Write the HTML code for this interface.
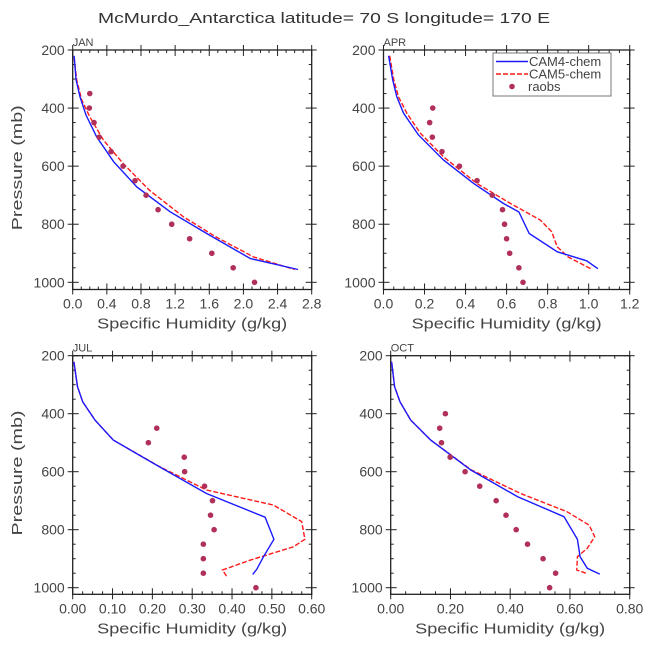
<!DOCTYPE html>
<html><head><meta charset="utf-8"><style>
body{margin:0;background:#fff;}
svg{display:block;font-family:"Liberation Sans","DejaVu Sans",sans-serif;}
</style></head><body>
<svg id="chart" width="648" height="648" viewBox="0 0 648 648">
<text x="324" y="23" text-anchor="middle" font-size="15" fill="#333" textLength="452" lengthAdjust="spacingAndGlyphs">McMurdo_Antarctica  latitude= 70 S longitude= 170 E</text>
</svg>
<script>
// ---- data ----
const janCam4P=[220,303,361,424,499,585,671,757,832,918,956];
const janCam4Q=[0.016,0.04,0.086,0.156,0.28,0.48,0.75,1.14,1.57,2.08,2.64];
const janCam5P=[225,303,372,430,510,591,683,775,844,913,956];
const janCam5Q=[0.016,0.047,0.105,0.2,0.36,0.59,0.9,1.3,1.68,2.12,2.6];
const janObsP=[350,400,450,500,550,600,650,700,750,800,850,900,950,1000];
const janObsQ=[0.2,0.195,0.25,0.31,0.45,0.59,0.73,0.86,1.0,1.16,1.37,1.63,1.88,2.13];

const aprCam4P=[220,303,361,418,493,579,660,729,758,832,895,926,953];
const aprCam4Q=[0.025,0.045,0.065,0.098,0.171,0.293,0.44,0.586,0.66,0.71,0.847,0.99,1.045];
const aprCam5P=[220,303,361,418,487,568,660,729,786,826,878,913,953];
const aprCam5Q=[0.03,0.05,0.073,0.114,0.18,0.293,0.456,0.62,0.765,0.82,0.847,0.9,1.01];
const aprObsP=[400,450,500,550,600,650,700,750,800,850,900,950,1000];
const aprObsQ=[0.24,0.225,0.238,0.285,0.37,0.456,0.53,0.58,0.59,0.6,0.615,0.66,0.68];

const julCam4P=[221,307,359,422,491,577,675,757,833,893,937,954];
const julCam4Q=[0.003,0.012,0.025,0.056,0.102,0.21,0.336,0.483,0.505,0.479,0.462,0.452];
const julCam5P=[221,307,359,422,491,583,663,715,772,833,859,905,939,960];
const julCam5Q=[0.003,0.012,0.025,0.056,0.102,0.219,0.336,0.504,0.575,0.583,0.554,0.445,0.376,0.386];
const julObsP=[450,500,550,600,650,700,750,800,850,900,950,1000];
const julObsQ=[0.211,0.19,0.28,0.281,0.331,0.351,0.346,0.355,0.328,0.328,0.328,0.46];

const octCam4P=[221,307,359,422,491,594,686,755,833,893,933,953];
const octCam4Q=[0.003,0.013,0.031,0.067,0.134,0.268,0.424,0.58,0.625,0.634,0.658,0.70];
const octCam5P=[221,307,359,422,491,594,675,738,784,824,864,893,939,950];
const octCam5Q=[0.003,0.013,0.031,0.067,0.134,0.27,0.435,0.59,0.664,0.683,0.658,0.625,0.623,0.653];
const octObsP=[400,450,500,550,600,650,700,750,800,850,900,950,1000];
const octObsQ=[0.183,0.164,0.17,0.199,0.249,0.298,0.353,0.386,0.42,0.458,0.51,0.552,0.532];

const yTickLabels=["200","400","600","800","1000"];
const janXTicks=["0.0","0.4","0.8","1.2","1.6","2.0","2.4","2.8"];
const aprXTicks=["0.0","0.2","0.4","0.6","0.8","1.0","1.2"];
const julXTicks=["0.00","0.10","0.20","0.30","0.40","0.50","0.60"];
const octXTicks=["0.00","0.20","0.40","0.60","0.80"];

const NS="http://www.w3.org/2000/svg";
const svg=document.getElementById('chart');
function mk(tag,attrs,parent){const e=document.createElementNS(NS,tag);for(const k in attrs)e.setAttribute(k,attrs[k]);(parent||svg).appendChild(e);return e;}

const panels=[
 {id:'jan',label:'JAN',x0:72.7,x1:311.7,yTop:50,y1000:282.3,yBot:289.5,xmax:2.8,minor:4,ticks:janXTicks,c4:[janCam4P,janCam4Q],c5:[janCam5P,janCam5Q],ob:[janObsP,janObsQ],ylab:true,legend:false},
 {id:'apr',label:'APR',x0:383.5,x1:629.7,yTop:50,y1000:282.3,yBot:289.5,xmax:1.2,minor:4,ticks:aprXTicks,c4:[aprCam4P,aprCam4Q],c5:[aprCam5P,aprCam5Q],ob:[aprObsP,aprObsQ],ylab:false,legend:true},
 {id:'jul',label:'JUL',x0:72.7,x1:311.7,yTop:355.7,y1000:587.7,yBot:594.3,xmax:0.6,minor:4,ticks:julXTicks,c4:[julCam4P,julCam4Q],c5:[julCam5P,julCam5Q],ob:[julObsP,julObsQ],ylab:true,legend:false},
 {id:'oct',label:'OCT',x0:390.7,x1:629.7,yTop:355.7,y1000:587.7,yBot:594.3,xmax:0.8,minor:4,ticks:octXTicks,c4:[octCam4P,octCam4Q],c5:[octCam5P,octCam5Q],ob:[octObsP,octObsQ],ylab:false,legend:false}
];

panels.forEach(p=>{
 const g=mk('g',{});
 
 
 const xs=v=>p.x0+(v/p.xmax)*(p.x1-p.x0);
 const ys=v=>p.yTop+(v-200)/800*(p.y1000-p.yTop);
 const lbl=mk('text',{x:p.x0,y:p.yTop-4,'font-size':11,fill:'#444'},g);lbl.textContent=p.label;
 
 
 for(let v=200;v<=1000;v+=50){
  const y=ys(v),maj=v%200===0,L=maj?6:3;
  mk('line',{x1:p.x0,x2:p.x0+L,y1:y,y2:y,stroke:'#222','stroke-width':1},g);
  mk('line',{x1:p.x1,x2:p.x1-L,y1:y,y2:y,stroke:'#222','stroke-width':1},g);
  if(maj){mk('line',{x1:p.x0,x2:p.x0-5,y1:y,y2:y,stroke:'#222'},g);mk('line',{x1:p.x1,x2:p.x1+5,y1:y,y2:y,stroke:'#222'},g);}
 }
 yTickLabels.forEach((t,i)=>{const v=200+i*200;const e=mk('text',{x:p.x0-8,y:ys(v)+5,'text-anchor':'end','font-size':14,fill:'#444'},g);e.textContent=t;
  
  });
 const n=p.ticks.length-1;
 for(let i=0;i<=n*p.minor;i++){
  const v=p.xmax*i/(n*p.minor),x=xs(v),maj=i%p.minor===0,L=maj?6:3;
  mk('line',{x1:x,x2:x,y1:p.yBot,y2:p.yBot-L,stroke:'#222'},g);
  mk('line',{x1:x,x2:x,y1:p.yTop,y2:p.yTop+L,stroke:'#222'},g);
  if(maj){mk('line',{x1:x,x2:x,y1:p.yBot,y2:p.yBot+5,stroke:'#222'},g);mk('line',{x1:x,x2:x,y1:p.yTop,y2:p.yTop-5,stroke:'#222'},g);}
 }
 p.ticks.forEach((t,i)=>{const e=mk('text',{x:xs(p.xmax*i/n),y:p.yBot+19,'text-anchor':'middle','font-size':14,fill:'#444'},g);e.textContent=t;
  
  });
 const fr=mk('rect',{x:p.x0,y:p.yTop,width:p.x1-p.x0,height:p.yBot-p.yTop,fill:'none',stroke:'#222','stroke-width':1.3},g);
 
 
 const pts=(P,Q)=>P.map((v,i)=>xs(Q[i]).toFixed(1)+','+ys(v).toFixed(1)).join(' ');
 const l5=mk('polyline',{points:pts(p.c5[0],p.c5[1]),fill:'none',stroke:'#ff1a1a','stroke-width':1.4,'stroke-dasharray':'5,2'},g);
 
 
 const l4=mk('polyline',{points:pts(p.c4[0],p.c4[1]),fill:'none',stroke:'#1a1aff','stroke-width':1.4},g);
 
 
 p.ob[0].forEach((v,i)=>{const c=mk('circle',{cx:xs(p.ob[1][i]),cy:ys(v),r:2.8,fill:'#b0305a'},g);
  
  });
 if(p.ylab){const t=mk('text',{x:0,y:0,transform:`translate(22,${(p.yTop+p.yBot)/2-2}) rotate(-90)`,'text-anchor':'middle','font-size':15,fill:'#444',textLength:125,lengthAdjust:'spacingAndGlyphs'},g);t.textContent='Pressure (mb)';
  
  }
 const xt=mk('text',{x:(p.x0+p.x1)/2,y:p.yBot+39,'text-anchor':'middle','font-size':15,fill:'#444',textLength:190,lengthAdjust:'spacingAndGlyphs'},g);xt.textContent='Specific Humidity (g/kg)';
 
 
 if(p.legend){
  const lg=mk('g',{},g);
  
  
  mk('rect',{x:493,y:53,width:118,height:43,fill:'#fff',stroke:'#777','stroke-width':1},lg);
  const rows=[['CAM4-chem','#1a1aff',''],['CAM5-chem','#ff1a1a','5,2'],['raobs','',null]];
  rows.forEach((r,i)=>{const y=61.5+i*12.5;
   if(r[2]===null){const c=mk('circle',{cx:512,cy:y,r:2.8,fill:'#b0305a'},lg);}
   else{const l=mk('line',{x1:496,x2:528,y1:y,y2:y,stroke:r[1],'stroke-width':1.4,'stroke-dasharray':r[2]||'none'},lg);}
   const t=mk('text',{x:r[2]===null?528:529,y:y+4.5,'font-size':13,fill:'#444'},lg);t.textContent=r[0];
   
   });
 }
});
</script>
</body></html>
